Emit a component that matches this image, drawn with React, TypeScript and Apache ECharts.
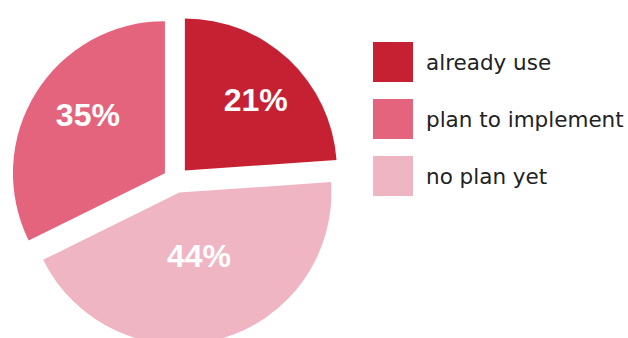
import React, { useEffect, useRef } from "react";
import * as echarts from "echarts";

// Slice order (clockwise from 12 o'clock)
const categories = ["already use", "no plan yet", "plan to implement"];
// Slice sizes as drawn in the picture (degrees → share of 100)
const sliceValues = [23.9, 43.8, 32.3];
// Percent texts printed on the slices
const percentLabels = ["21%", "44%", "35%"];
const sliceColors = ["#C62033", "#F0B5C3", "#E5647D"];
const legendOrder = ["already use", "plan to implement", "no plan yet"];
// nudges of the percent texts from the default inside position
const labelNudge = [
  [17, -13],
  [-1, -13],
  [-10, -16],
];

export default function App() {
  const ref = useRef<HTMLDivElement>(null);
  useEffect(() => {
    if (!ref.current) return;
    const chart = echarts.init(ref.current, undefined, { renderer: "svg" });
    chart.setOption({
      animation: false,
      legend: {
        orient: "vertical",
        left: 373,
        top: 42,
        padding: 0,
        itemWidth: 40,
        itemHeight: 40,
        itemGap: 17,
        icon: "rect",
        selectedMode: false,
        data: legendOrder,
        textStyle: {
          fontFamily: "DejaVu Sans",
          fontSize: 21.5,
          color: "#222222",
          padding: [0, 0, 4, 8],
        },
      },
      series: [
        {
          type: "pie",
          center: [176, 180],
          radius: [0, 152],
          startAngle: 90,
          clockwise: true,
          selectedMode: "multiple",
          selectedOffset: 13,
          silent: true,
          emphasis: { disabled: true },
          labelLine: { show: false },
          label: {
            show: true,
            position: "inside",
            formatter: (p: any) => percentLabels[p.dataIndex],
            color: "#ffffff",
            fontFamily: "Liberation Sans",
            fontWeight: "bold",
            fontSize: 32,
          },
          labelLayout: (p: any) => ({
            dx: labelNudge[p.dataIndex][0],
            dy: labelNudge[p.dataIndex][1],
          }),
          data: categories.map((name, i) => ({
            name,
            value: sliceValues[i],
            selected: true,
            itemStyle: { color: sliceColors[i], borderWidth: 0 },
            select: { itemStyle: { color: sliceColors[i], borderWidth: 0 } },
          })),
        },
      ],
    });
    return () => chart.dispose();
  }, []);
  return (
    <div
      ref={ref}
      style={{ position: "absolute", left: 0, top: 0, width: 628, height: 338 }}
    />
  );
}
